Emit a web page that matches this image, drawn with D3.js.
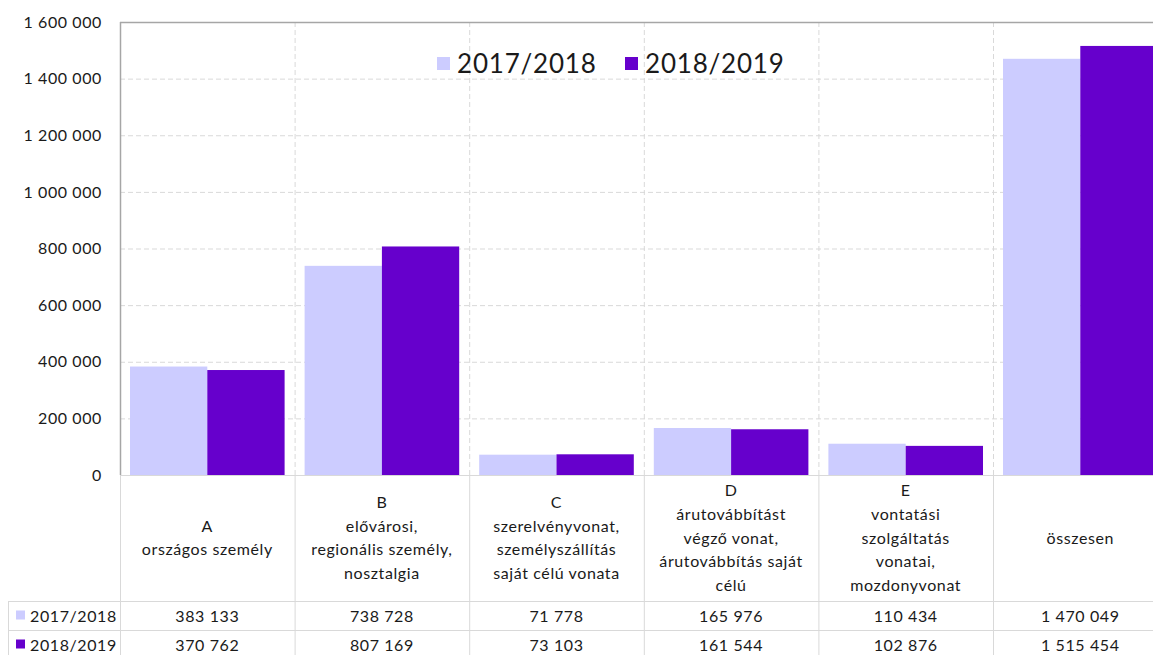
<!DOCTYPE html>
<html>
<head>
<meta charset="utf-8">
<script src="https://cdn.jsdelivr.net/npm/d3@7"></script>
<style>
  body { margin: 0; background: #fff; }
  text { font-family: Lato, "Open Sans", sans-serif; fill: #1a1a1a; letter-spacing: 0.6px; }
</style>
</head>
<body>
<div id="chart"></div>
<script>
// data
const categories = ["A", "B", "C", "D", "E", "összesen"]
const categoryLines = [
  ["A", "országos személy"],
  ["B", "elővárosi,", "regionális személy,", "nosztalgia"],
  ["C", "szerelvényvonat,", "személyszállítás", "saját célú vonata"],
  ["D", "árutovábbítást", "végző vonat,", "árutovábbítás saját", "célú"],
  ["E", "vontatási", "szolgáltatás", "vonatai,", "mozdonyvonat"],
  ["összesen"]
]
const seriesNames = ["2017/2018", "2018/2019"]
const values2017 = [383133, 738728, 71778, 165976, 110434, 1470049]
const values2018 = [370762, 807169, 73103, 161544, 102876, 1515454]
const yTicks = [0, 200000, 400000, 600000, 800000, 1000000, 1200000, 1400000, 1600000]
const colors = ["#ccccff", "#6600cc"]

const W = 1153, H = 655
const plotLeft = 120, plotTop = 22, plotBottom = 475
const colW = 174.6
const rowTop1 = 601, rowTop2 = 630

const svg = d3.select("#chart").append("svg")
  .attr("width", W).attr("height", H)

const fmt = d3.formatLocale({decimal: ",", thousands: " ", grouping: [3], currency: ["", ""]}).format(",d")

const x = d3.scaleBand().domain(categories).range([plotLeft, plotLeft + colW * categories.length])
const x1 = d3.scaleBand().domain(seriesNames).range([10, colW - 10])
const y = d3.scaleLinear().domain([0, 1600000]).range([plotBottom, plotTop])

// grid lines
const grid = svg.append("g")
grid.selectAll("line.h")
  .data(yTicks.filter(d => d > 0 && d < 1600000))
  .join("line")
    .attr("x1", plotLeft).attr("x2", W)
    .attr("y1", d => y(d) + 0.5).attr("y2", d => y(d) + 0.5)
    .attr("stroke", "#d9d9d9").attr("stroke-dasharray", "5,3")
grid.selectAll("line.v")
  .data(categories.slice(1))
  .join("line")
    .attr("x1", d => x(d) + 0.5).attr("x2", d => x(d) + 0.5)
    .attr("y1", plotTop).attr("y2", plotBottom)
    .attr("stroke", "#d9d9d9").attr("stroke-dasharray", "5,3")

// y axis labels
const yAxis = svg.append("g")
  .attr("transform", "translate(" + plotLeft + ",0)")
  .call(d3.axisLeft(y).tickValues(yTicks).tickSize(0).tickPadding(18).tickFormat(fmt))
yAxis.select(".domain").remove()
yAxis.selectAll("text").attr("font-size", 16).attr("fill", "#1a1a1a")
  .style("font-family", "Lato, sans-serif")

// bars
const series = [values2017, values2018]
series.forEach((vals, si) => {
  svg.append("g").selectAll("rect")
    .data(vals)
    .join("rect")
      .attr("x", (d, i) => x(categories[i]) + x1(seriesNames[si]))
      .attr("width", x1.bandwidth())
      .attr("y", d => y(d))
      .attr("height", d => y(0) - y(d))
      .attr("fill", colors[si])
})

// plot frame: top and left
svg.append("line").attr("x1", plotLeft).attr("x2", W).attr("y1", plotTop + 0.5).attr("y2", plotTop + 0.5)
  .attr("stroke", "#a6a6a6").attr("stroke-width", 1.5)
svg.append("line").attr("x1", plotLeft + 0.5).attr("x2", plotLeft + 0.5).attr("y1", plotTop).attr("y2", plotBottom)
  .attr("stroke", "#a6a6a6").attr("stroke-width", 1.5)

// legend inside plot
const legend = svg.append("g")
const legX = [437, 625]
seriesNames.forEach((s, i) => {
  legend.append("rect").attr("x", legX[i]).attr("y", 57).attr("width", 13).attr("height", 13)
    .attr("fill", colors[i])
  legend.append("text").attr("x", legX[i] + 20).attr("y", 73).attr("font-size", 26)
    .style("letter-spacing", "0.8px").text(s)
})

// data table
const tbl = svg.append("g")
const lineCol = "#d9d9d9"
tbl.append("line").attr("x1", plotLeft).attr("x2", W).attr("y1", plotBottom + 0.5).attr("y2", plotBottom + 0.5).attr("stroke", lineCol)
;[rowTop1, rowTop2].forEach(yy => {
  tbl.append("line").attr("x1", 8).attr("x2", W).attr("y1", yy + 0.5).attr("y2", yy + 0.5).attr("stroke", lineCol)
})
tbl.append("line").attr("x1", 8.5).attr("x2", 8.5).attr("y1", rowTop1).attr("y2", H).attr("stroke", lineCol)
categories.forEach(c => {
  tbl.append("line").attr("x1", x(c) + 0.5).attr("x2", x(c) + 0.5).attr("y1", plotBottom).attr("y2", H).attr("stroke", lineCol)
})

// category labels
const lh = 23.7
categoryLines.forEach((lines, i) => {
  const cx = x(categories[i]) + colW / 2
  const cy = (plotBottom + rowTop1) / 2
  const t = tbl.append("text").attr("text-anchor", "middle").attr("font-size", 16)
  lines.forEach((l, j) => {
    t.append("tspan").attr("x", cx)
      .attr("y", cy + (j - (lines.length - 1) / 2) * lh + 5.5)
      .text(l)
  })
})

// value rows
const rowY = [rowTop1, rowTop2]
series.forEach((vals, si) => {
  const ry = rowY[si] + 14.5
  tbl.append("rect").attr("x", 16).attr("y", ry - 5).attr("width", 9).attr("height", 9).attr("fill", colors[si])
  tbl.append("text").attr("x", 30).attr("y", ry + 6).attr("font-size", 16).text(seriesNames[si])
  tbl.selectAll(null).data(vals).join("text")
    .attr("x", (d, i) => x(categories[i]) + colW / 2)
    .attr("y", ry + 6)
    .attr("text-anchor", "middle").attr("font-size", 16)
    .text(d => fmt(d))
})
</script>
</body>
</html>
